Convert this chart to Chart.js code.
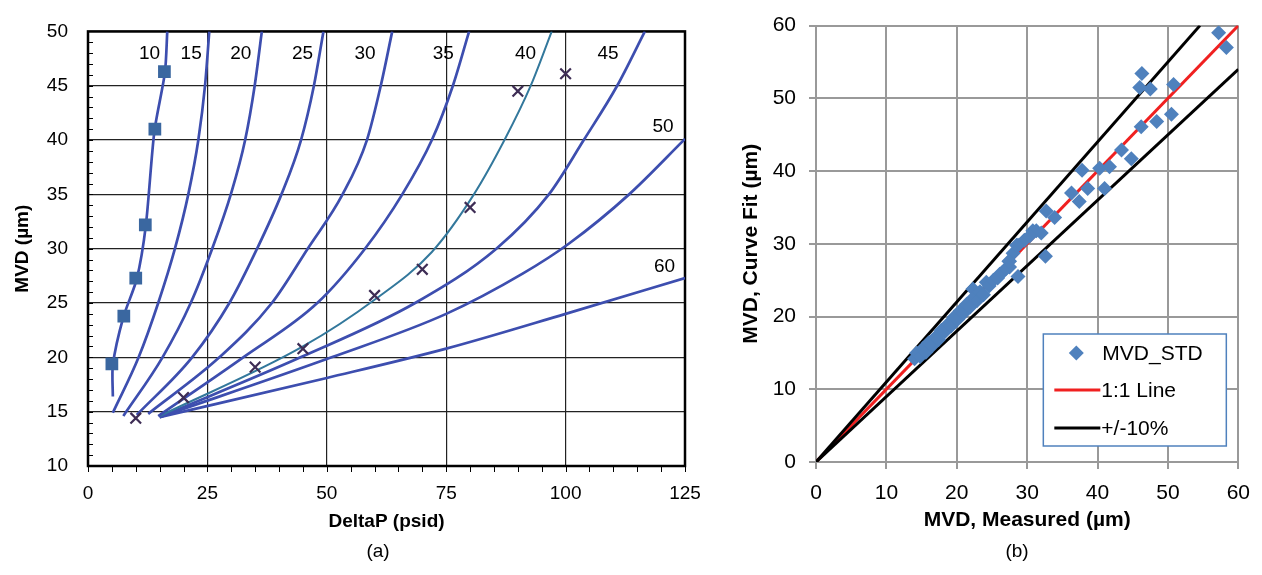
<!DOCTYPE html>
<html><head><meta charset="utf-8">
<script src="https://cdn.jsdelivr.net/npm/chart.js@4.4.1/dist/chart.umd.min.js"></script>
<style>
html,body{margin:0;padding:0;background:#fff;width:1262px;height:575px;overflow:hidden;font-family:'Liberation Sans',Arial,sans-serif}
#ca{position:absolute;left:0;top:0}
#cb{position:absolute;left:720px;top:0}
.cap{position:absolute;top:540px;width:60px;text-align:center;font-size:19px;color:#000}
</style></head>
<body>
<canvas id="ca" width="720" height="575"></canvas>
<canvas id="cb" width="542" height="575"></canvas>
<div class="cap" style="left:348px">(a)</div>
<div class="cap" style="left:987px">(b)</div>
<script>
// ---------- Panel (a) data ----------
const curveNames = ['10','15','20','25','30','35','40','45','50','60'];
const curve10 = [[5.2,16.4],[5.2,19.3],[7.4,23.7],[10.2,27.2],[12.1,32.1],[13.9,40.8],[16.1,46.2],[16.6,50]];
const curve15 = [[5.2,14.9],[10.6,20],[14.7,25],[18.2,30],[21.0,35],[23.1,40],[24.5,45],[25.4,50]];
const curve20 = [[7.4,14.6],[15.6,20],[21.5,25],[26.0,30],[29.9,35],[32.9,40],[34.9,45],[36.4,50]];
const curve25 = [[10.2,14.7],[21.8,20],[29.6,25],[35.4,30],[40.5,35],[44.6,40],[47.3,45],[49.3,50]];
const curve30 = [[12.6,14.8],[27.5,20],[38.5,25],[46.0,30],[53.3,35],[58.4,40],[61.3,45],[63.7,50]];
const curve35 = [[14.7,14.6],[32.5,20],[48.0,25],[58.0,30],[65.8,35],[72.0,40],[76.4,45],[79.8,50]];
const curve40 = [[15.0,14.6],[45,21.0],[60,25.3],[72,29.7],[80.8,35],[87.2,40],[92.7,45],[97.1,50]];
const curve45 = [[15.0,14.5],[44.5,20],[68.5,25],[85.5,30],[96.5,35],[103.8,40],[110.8,45],[116.6,50]];
const curve50 = [[15.0,14.5],[51,20],[75,24.0],[91,27.7],[100.8,30.5],[113.3,35],[125,40.1]];
const curve60 = [[15.0,14.5],[50,18.1],[75,20.8],[100,24.0],[125,27.3]];
const curves = [curve10,curve15,curve20,curve25,curve30,curve35,curve40,curve45,curve50,curve60];
const squareX = [5, 7.5, 10, 12, 14, 16];
const squareY = [19.4, 23.8, 27.3, 32.2, 41.0, 46.3];
const crossX = [10, 20, 35, 45, 60, 70, 80, 90, 100];
const crossY = [14.4, 16.3, 19.1, 20.8, 25.7, 28.1, 33.8, 44.5, 46.1];
const xTicksA = {min:0, max:125, step:25, minor:5};
const yTicksA = {min:10, max:50, step:5, minor:1};
// curve label anchors (data units)
const curveLabelX = [12.9,21.6,32.0,44.9,58.0,74.4,91.6,108.9,120.4,120.7];
const curveLabelY = [47.9,47.9,47.9,47.9,47.9,47.9,47.9,47.9,41.2,28.3];

// ---------- Panel (b) data ----------
const measured = [57.2,58.3,46.3,46.0,47.5,50.8,46.2,48.4,50.5,43.4,44.8,37.8,40.3,41.7,41.0,36.3,38.6,37.4,32.7,33.9,30.8,32.0,29.6,
  31.3,30.4,28.7,28.0,27.5,28.7,26.1,24.2,22.3,32.6,28.5,27.5,
  14.0,14.3,14.8,15.2,15.6,16.0,16.5,17.0,17.4,17.8,18.3,18.8,19.2,19.6,20.1,20.5,21.0,21.4,21.9,22.4,22.9,23.3,23.8,24.6,25.2,25.8,26.4,27.0,27.4];
const curveFit = [59.0,57.0,53.4,51.5,51.3,51.9,46.1,46.8,47.8,42.9,41.7,40.1,40.4,40.6,37.6,37.0,37.6,35.8,34.5,33.6,31.8,31.5,30.5,
  31.8,31.1,29.8,28.7,26.8,25.5,25.8,24.7,23.8,28.3,29.8,27.6,
  14.2,15.0,14.5,15.6,15.1,16.4,16.0,17.2,16.8,18.1,17.9,19.0,18.7,19.9,19.6,20.8,20.5,21.7,21.3,22.6,22.2,23.4,23.0,24.2,25.0,25.3,26.0,26.6,27.6];
const oneToOne = [[0,0],[60,60]];
const plus10 = [[0,0],[54.55,60]];
const minus10 = [[0,0],[60,54]];
const seriesNamesB = ['MVD_STD','1:1 Line','+/-10%'];
const axisB = {min:0, max:60, step:10};

// ---------- common ----------
const FAM = "'Liberation Sans', Arial, sans-serif";
Chart.defaults.font.family = FAM;
Chart.defaults.color = '#000';
const toPts = (xs, ys) => xs.map((x,i)=>({x:x, y:ys[i]}));
const pairPts = arr => arr.map(p=>({x:p[0], y:p[1]}));

const CURVE_BLUE = '#3D4EAF';
const CURVE_TEAL = '#33789C';

const plotA = {
  id:'plotA',
  beforeDatasetsDraw(chart){
    const {ctx, chartArea:a, scales:{x,y}} = chart;
    ctx.save();
    ctx.strokeStyle = '#000'; ctx.lineWidth = 1;
    ctx.beginPath();
    for (let v = yTicksA.min; v <= yTicksA.max; v += yTicksA.minor) {
      const py = Math.round(y.getPixelForValue(v)) + 0.5;
      ctx.moveTo(a.left, py); ctx.lineTo(a.left + 5, py);
    }
    for (let v = xTicksA.min; v <= xTicksA.max; v += xTicksA.minor) {
      const px = Math.round(x.getPixelForValue(v)) + 0.5;
      ctx.moveTo(px, a.bottom); ctx.lineTo(px, a.bottom + 6);
    }
    ctx.stroke();
    ctx.lineWidth = 2.5;
    ctx.strokeRect(a.left, a.top, a.right - a.left, a.bottom - a.top);
    ctx.restore();
  },
  afterDatasetsDraw(chart){
    const {ctx, scales:{x,y}} = chart;
    ctx.save();
    ctx.fillStyle = '#000';
    ctx.font = "19px " + FAM;
    ctx.textAlign = 'center'; ctx.textBaseline = 'middle';
    curveNames.forEach((n,i)=>{
      ctx.fillText(n, x.getPixelForValue(curveLabelX[i]), y.getPixelForValue(curveLabelY[i]));
    });
    ctx.restore();
  }
};

const curveSets = curves.map((c,i)=>{
  const isFirst = i === 0;
  return {
    label: 'P' + curveNames[i],
    data: pairPts(c),
    showLine: true,
    borderColor: curveNames[i]==='40' ? CURVE_TEAL : CURVE_BLUE,
    borderWidth: curveNames[i]==='40' ? 2 : 2.7,
    pointRadius: 0,
    tension: isFirst ? 0.25 : 0.4,
    cubicInterpolationMode: isFirst ? 'default' : 'monotone',
    fill: false
  };
});

new Chart(document.getElementById('ca'), {
  type: 'scatter',
  data: {
    datasets: [
      {label:'data', data: toPts(squareX, squareY), pointStyle:'rect', pointRadius:9,
       backgroundColor:'#3A67A0', borderColor:'#3A67A0', borderWidth:0, showLine:false},
      {label:'xdata', data: toPts(crossX, crossY), pointStyle:'crossRot', pointRadius:7.5,
       borderColor:'#3E2D55', borderWidth:2.2, showLine:false},
      ...curveSets
    ]
  },
  options: {
    responsive:false, animation:false, events:[],
    layout:{padding:{left:0, right:35, top:20, bottom:0}},
    plugins:{legend:{display:false}, tooltip:{enabled:false}},
    scales:{
      x:{min:xTicksA.min, max:xTicksA.max,
         ticks:{stepSize:xTicksA.step, font:{size:19}, padding:16, color:'#000', maxRotation:0},
         grid:{color:'#222', lineWidth:1.2, drawTicks:false},
         border:{display:false},
         title:{display:true, text:'DeltaP (psid)', font:{size:19, weight:'bold'}, color:'#000', padding:{top:0,bottom:42}},
         afterFit(s){ s.height = 109; }},
      y:{min:yTicksA.min, max:yTicksA.max,
         ticks:{stepSize:yTicksA.step, font:{size:19}, padding:20, color:'#000'},
         grid:{color:'#222', lineWidth:1.2, drawTicks:false},
         border:{display:false},
         title:{display:true, text:'MVD (µm)', font:{size:19, weight:'bold'}, color:'#000', padding:{top:11,bottom:0}},
         afterFit(s){ s.width = 88; }}
    }
  },
  plugins:[plotA]
});

// ---------- Panel (b) ----------
const legendB = {
  id:'legendB',
  afterDraw(chart){
    const {ctx, chartArea:a} = chart;
    const ds = chart.data.datasets;
    const w = 183, h = 112;
    const bx = a.right - 12 - w, by = a.bottom - 16 - h;
    ctx.save();
    ctx.fillStyle = '#fff'; ctx.fillRect(bx, by, w, h);
    ctx.strokeStyle = '#4F81BD'; ctx.lineWidth = 1.5; ctx.strokeRect(bx, by, w, h);
    ctx.font = "21px " + FAM; ctx.fillStyle = '#000';
    ctx.textAlign = 'left'; ctx.textBaseline = 'middle';
    const r1 = by + 19, r2 = by + 56, r3 = by + 94;
    ctx.fillStyle = ds[0].backgroundColor;
    const cx = bx + 33, rr = 7.5;
    ctx.beginPath(); ctx.moveTo(cx, r1 - rr); ctx.lineTo(cx + rr, r1); ctx.lineTo(cx, r1 + rr); ctx.lineTo(cx - rr, r1); ctx.closePath(); ctx.fill();
    ctx.fillStyle = '#000'; ctx.fillText(seriesNamesB[0], bx + 59, r1 + 1);
    ctx.strokeStyle = ds[3].borderColor; ctx.lineWidth = 3;
    ctx.beginPath(); ctx.moveTo(bx + 11, r2); ctx.lineTo(bx + 57, r2); ctx.stroke();
    ctx.fillText(seriesNamesB[1], bx + 58, r2 + 1);
    ctx.strokeStyle = ds[1].borderColor;
    ctx.beginPath(); ctx.moveTo(bx + 11, r3); ctx.lineTo(bx + 57, r3); ctx.stroke();
    ctx.fillText(seriesNamesB[2], bx + 58, r3 + 1);
    ctx.restore();
  }
};

new Chart(document.getElementById('cb'), {
  type:'scatter',
  data:{
    datasets:[
      {label:seriesNamesB[0], data: toPts(measured, curveFit), pointStyle:'rectRot', pointRadius:7.5,
       backgroundColor:'#4F81BD', borderColor:'#4F81BD', borderWidth:0, showLine:false},
      {label:seriesNamesB[2], data: pairPts(plus10), showLine:true, borderColor:'#000', borderWidth:3, pointRadius:0},
      {label:seriesNamesB[2] + ' low', data: pairPts(minus10), showLine:true, borderColor:'#000', borderWidth:3, pointRadius:0},
      {label:seriesNamesB[1], data: pairPts(oneToOne), showLine:true, borderColor:'#F02020', borderWidth:3, pointRadius:0}
    ]
  },
  options:{
    responsive:false, animation:false, events:[],
    layout:{padding:{left:0, right:23, top:15, bottom:0}},
    plugins:{legend:{display:false}, tooltip:{enabled:false}},
    scales:{
      x:{min:axisB.min, max:axisB.max,
         ticks:{stepSize:axisB.step, font:{size:21}, padding:12, color:'#000', maxRotation:0},
         grid:{color:'#999', lineWidth:2, tickLength:7},
         border:{color:'#999', width:2},
         title:{display:true, text:'MVD, Measured (µm)', font:{size:21, weight:'bold'}, color:'#000', padding:{top:0,bottom:42}},
         afterFit(s){ s.height = 113; }},
      y:{min:axisB.min, max:axisB.max,
         ticks:{stepSize:axisB.step, font:{size:21}, padding:13, color:'#000'},
         grid:{color:'#999', lineWidth:2, tickLength:7},
         border:{color:'#999', width:2},
         title:{display:true, text:'MVD, Curve Fit (µm)', font:{size:21, weight:'bold'}, color:'#000', padding:{top:19,bottom:0}},
         afterFit(s){ s.width = 96; }}
    }
  },
  plugins:[legendB]
});
</script>
</body></html>
